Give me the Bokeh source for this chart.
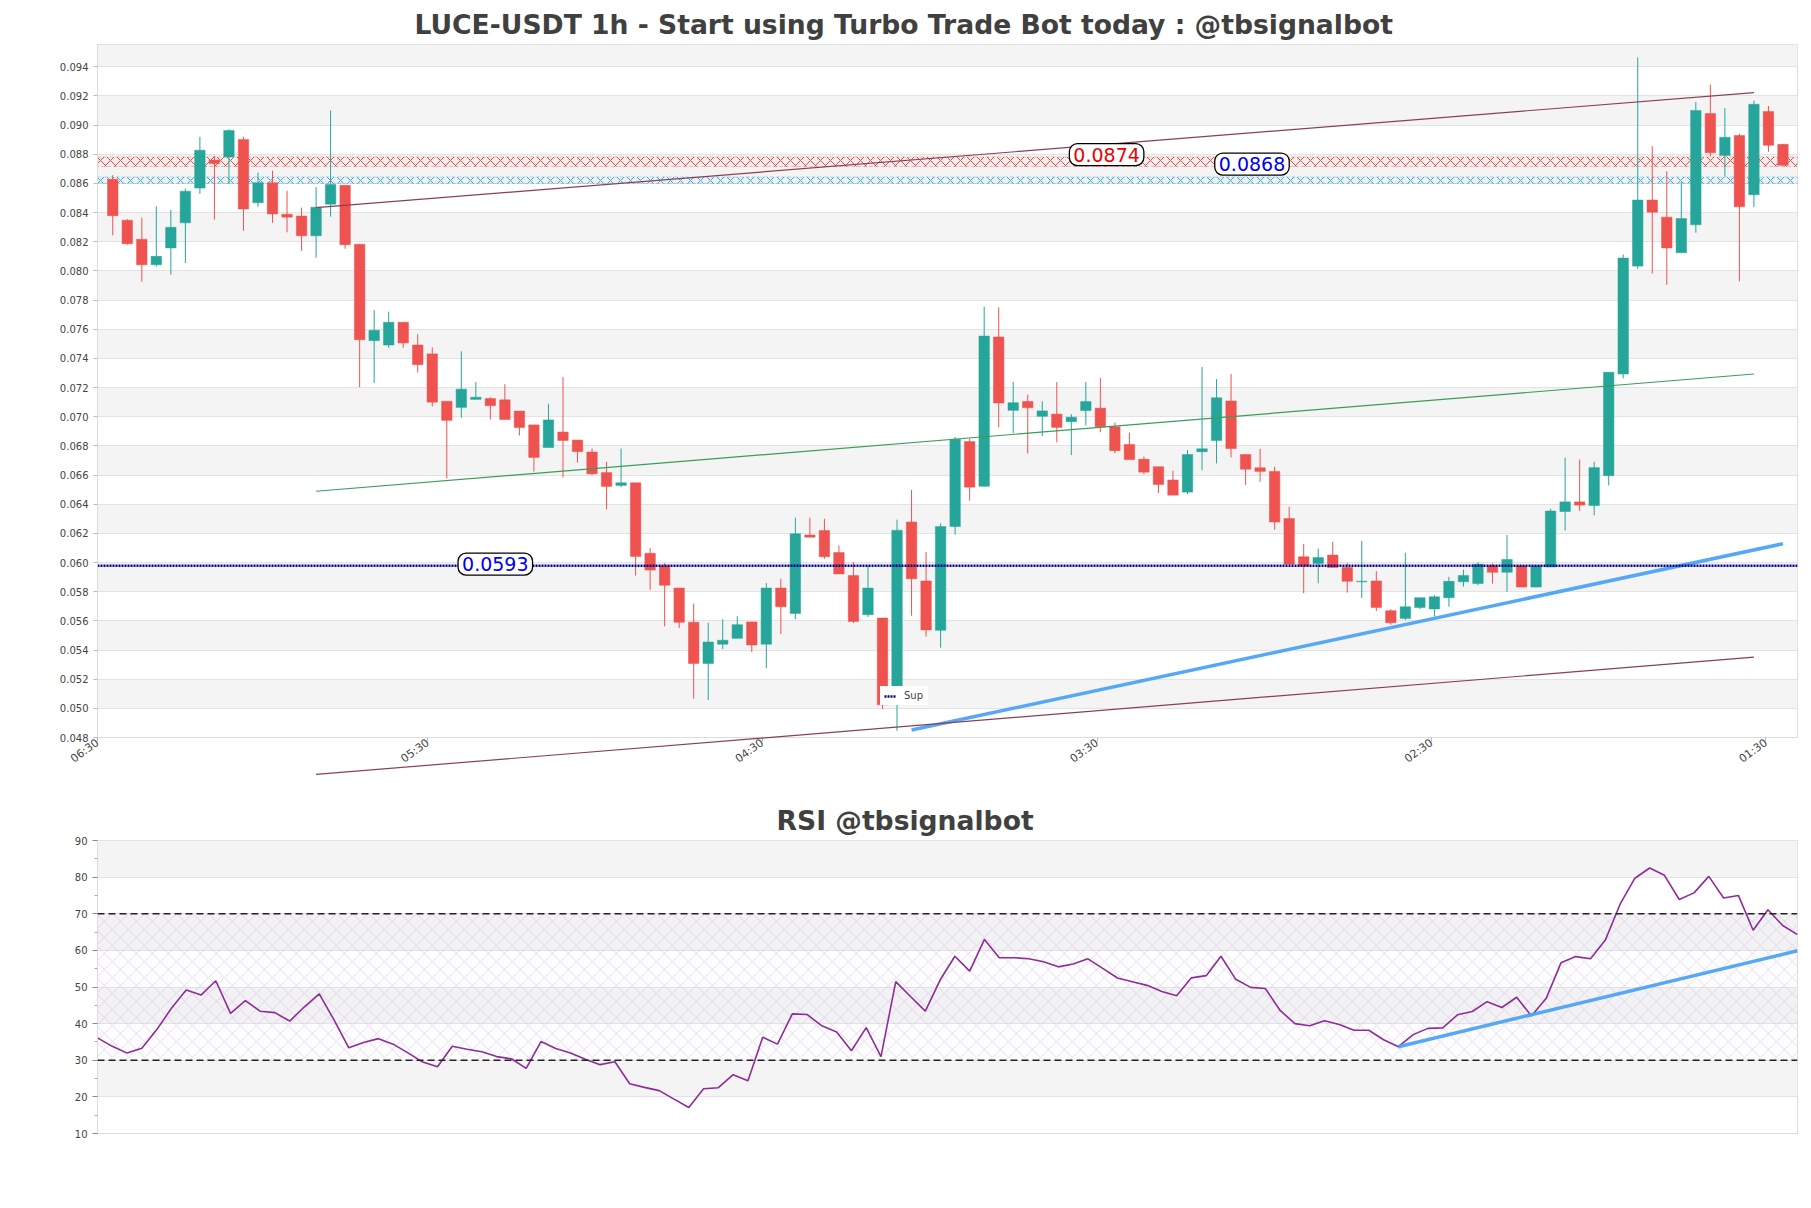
import math
from bokeh.plotting import figure
from bokeh.layouts import column
from bokeh.models import (Range1d, FixedTicker, PrintfTickFormatter, BoxAnnotation,
                          Label, Legend, LegendItem, ColumnDataSource, Span)
from bokeh.embed import file_html
from bokeh.resources import INLINE

# ---------------- data ----------------
opens = [0.08629, 0.08348, 0.08217, 0.08042, 0.08158, 0.08330, 0.08568, 0.08761, 0.08782, 0.08902,
         0.08467, 0.08605, 0.08388, 0.08376, 0.08241, 0.08458, 0.08587, 0.08183, 0.07522, 0.07492,
         0.07648, 0.07492, 0.07431, 0.07106, 0.07064, 0.07119, 0.07125, 0.07116, 0.07039, 0.06944,
         0.06789, 0.06895, 0.06840, 0.06758, 0.06617, 0.06529, 0.06547, 0.06064, 0.05978, 0.05825,
         0.05590, 0.05308, 0.05440, 0.05480, 0.05593, 0.05440, 0.05825, 0.05651, 0.06189, 0.06219,
         0.06068, 0.05911, 0.05642, 0.05620, 0.05030, 0.06278, 0.05874, 0.05535, 0.06247, 0.06830,
         0.06523, 0.07547, 0.07044, 0.07105, 0.07003, 0.07018, 0.06966, 0.07042, 0.07059, 0.06931,
         0.06810, 0.06709, 0.06657, 0.06566, 0.06483, 0.06760, 0.06837, 0.07108, 0.06741, 0.06650,
         0.06625, 0.06302, 0.06040, 0.05994, 0.06051, 0.05966, 0.05868, 0.05874, 0.05670, 0.05617,
         0.05691, 0.05682, 0.05759, 0.05868, 0.05856, 0.05978, 0.05933, 0.05978, 0.05832, 0.05969,
         0.06350, 0.06416, 0.06391, 0.06596, 0.07293, 0.08033, 0.08486, 0.08369, 0.08125, 0.08317,
         0.09079, 0.08791, 0.08929, 0.08522, 0.09094, 0.08868]
highs = [0.08657, 0.08355, 0.08366, 0.08443, 0.08418, 0.08565, 0.08920, 0.08791, 0.08972, 0.08920,
         0.08675, 0.08687, 0.08550, 0.08434, 0.08574, 0.09100, 0.08590, 0.08183, 0.07730, 0.07721,
         0.07650, 0.07566, 0.07476, 0.07106, 0.07449, 0.07238, 0.07134, 0.07223, 0.07039, 0.06944,
         0.07089, 0.07272, 0.06840, 0.06782, 0.06691, 0.06782, 0.06547, 0.06100, 0.05996, 0.05825,
         0.05718, 0.05587, 0.05611, 0.05632, 0.05593, 0.05859, 0.05890, 0.06308, 0.06308, 0.06300,
         0.06117, 0.06004, 0.05981, 0.05620, 0.06294, 0.06498, 0.06073, 0.06269, 0.06861, 0.06848,
         0.07755, 0.07749, 0.07238, 0.07151, 0.07105, 0.07238, 0.07018, 0.07238, 0.07266, 0.06960,
         0.06892, 0.06727, 0.06657, 0.06630, 0.06772, 0.07342, 0.07258, 0.07293, 0.06741, 0.06780,
         0.06657, 0.06382, 0.06128, 0.06095, 0.06142, 0.05997, 0.06149, 0.05941, 0.05679, 0.06067,
         0.05759, 0.05777, 0.05902, 0.05951, 0.06003, 0.05993, 0.06189, 0.05980, 0.05980, 0.06369,
         0.06719, 0.06706, 0.06691, 0.07305, 0.08112, 0.09464, 0.08856, 0.08684, 0.08608, 0.09158,
         0.09278, 0.09116, 0.08941, 0.09168, 0.09131, 0.08870]
lows = [0.08244, 0.08180, 0.07926, 0.08030, 0.07975, 0.08054, 0.08528, 0.08351, 0.08596, 0.08275,
        0.08440, 0.08330, 0.08265, 0.08137, 0.08091, 0.08372, 0.08152, 0.07204, 0.07232, 0.07473,
        0.07473, 0.07303, 0.07070, 0.06577, 0.06993, 0.07119, 0.06981, 0.06981, 0.06871, 0.06624,
        0.06789, 0.06583, 0.06686, 0.06600, 0.06365, 0.06517, 0.05911, 0.05813, 0.05562, 0.05550,
        0.05066, 0.05057, 0.05406, 0.05480, 0.05385, 0.05275, 0.05510, 0.05611, 0.06174, 0.06025,
        0.05922, 0.05585, 0.05627, 0.04994, 0.04846, 0.05635, 0.05492, 0.05416, 0.06192, 0.06425,
        0.06520, 0.06927, 0.06886, 0.06747, 0.06867, 0.06824, 0.06737, 0.06940, 0.06894, 0.06749,
        0.06706, 0.06605, 0.06477, 0.06462, 0.06470, 0.06633, 0.06680, 0.06721, 0.06533, 0.06554,
        0.06226, 0.05989, 0.05790, 0.05858, 0.05966, 0.05794, 0.05757, 0.05667, 0.05574, 0.05605,
        0.05682, 0.05630, 0.05697, 0.05835, 0.05844, 0.05856, 0.05799, 0.05830, 0.05830, 0.05969,
        0.06220, 0.06353, 0.06324, 0.06529, 0.07263, 0.08015, 0.07982, 0.07905, 0.08125, 0.08262,
        0.08785, 0.08648, 0.07929, 0.08437, 0.08816, 0.08720]
closes = [0.08379, 0.08186, 0.08042, 0.08100, 0.08299, 0.08547, 0.08828, 0.08736, 0.08963, 0.08424,
          0.08605, 0.08391, 0.08369, 0.08241, 0.08437, 0.08593, 0.08180, 0.07528, 0.07593, 0.07648,
          0.07506, 0.07357, 0.07100, 0.06975, 0.07189, 0.07134, 0.07076, 0.06981, 0.06926, 0.06721,
          0.06978, 0.06837, 0.06761, 0.06608, 0.06522, 0.06547, 0.06042, 0.05948, 0.05844, 0.05590,
          0.05308, 0.05455, 0.05467, 0.05574, 0.05434, 0.05825, 0.05697, 0.06198, 0.06174, 0.06040,
          0.05922, 0.05596, 0.05825, 0.05024, 0.06221, 0.05889, 0.05538, 0.06247, 0.06845, 0.06517,
          0.07553, 0.07094, 0.07096, 0.07062, 0.07040, 0.06927, 0.06997, 0.07104, 0.06931, 0.06767,
          0.06706, 0.06620, 0.06535, 0.06462, 0.06741, 0.06780, 0.07130, 0.06782, 0.06640, 0.06625,
          0.06278, 0.05989, 0.05976, 0.06034, 0.05966, 0.05871, 0.05872, 0.05691, 0.05587, 0.05697,
          0.05759, 0.05765, 0.05871, 0.05911, 0.05988, 0.05933, 0.06021, 0.05832, 0.05978, 0.06353,
          0.06416, 0.06394, 0.06651, 0.07305, 0.08088, 0.08486, 0.08403, 0.08158, 0.08359, 0.09100,
          0.08810, 0.08917, 0.08440, 0.09143, 0.08862, 0.08724]

rsi = [36.1, 33.8, 31.95, 33.3, 38.3, 44.2, 49.2, 47.8, 51.7, 42.8,
       46.3, 43.4, 43.0, 40.7, 44.6, 48.1, 41.0, 33.4, 34.85, 35.9,
       34.4, 32.0, 29.5, 28.2, 33.8, 33.0, 32.3, 31.0, 30.4, 27.8,
       35.1, 33.2, 32.0, 30.3, 28.8, 29.6, 23.6, 22.6, 21.7, 19.4,
       17.1, 22.2, 22.5, 26.05, 24.4, 36.3, 34.4, 42.65, 42.5, 39.4,
       37.7, 32.6, 38.9, 31.0, 51.45, 47.4, 43.4, 51.9, 58.4, 54.35,
       63.0, 58.0, 58.0, 57.7, 56.9, 55.5, 56.3, 57.7, 55.1, 52.45,
       51.45, 50.45, 48.8, 47.6, 52.5, 53.1, 58.4, 52.1, 49.9, 49.6,
       43.6, 40.0, 39.4, 40.8, 39.75, 38.2, 38.2, 35.6, 33.7, 37.0,
       38.7, 38.85, 42.4, 43.3, 46.0, 44.4, 47.2, 42.1, 46.9, 56.6,
       58.3, 57.7, 62.8, 72.6, 79.7, 82.5, 80.5, 73.9, 75.7, 80.2,
       74.3, 75.0, 65.5, 71.1, 66.8, 64.3]

x_tick_labels = ["06:30", "05:30", "04:30", "03:30", "02:30", "01:30"]
x_tick_pos = [-1.04, 21.7, 44.73, 67.77, 90.8, 113.83]
price_ticks = [0.048, 0.050, 0.052, 0.054, 0.056, 0.058, 0.060, 0.062, 0.064, 0.066, 0.068, 0.070,
               0.072, 0.074, 0.076, 0.078, 0.080, 0.082, 0.084, 0.086, 0.088, 0.090, 0.092, 0.094]
rsi_ticks = [10, 20, 30, 40, 50, 60, 70, 80, 90]
rsi_minor_ticks = [15, 25, 35, 45, 55, 65, 75, 85]

# levels / trend lines
resist_band = (0.08716, 0.08782)
support_band = (0.08600, 0.08645)
sup_level = 0.05978
sup_label = "0.0593"
res_label_red = "0.0874"
res_label_blue = "0.0868"
channel_x = [14, 113]
channel_upper = [0.08434, 0.09223]
channel_mid = [0.06489, 0.07293]
channel_lower = [0.04547, 0.05351]
sup_trend_x = [55, 115]
sup_trend_y = [0.04851, 0.06129]
rsi_trend_x = [88, 115]
rsi_trend_y = [33.7, 59.9]
rsi_upper, rsi_lower = 70, 30

TITLE = "LUCE-USDT 1h - Start using Turbo Trade Bot today : @tbsignalbot"
FONT = "DejaVu Sans"
UP, DOWN = "#26a69a", "#ef5350"

# ---------------- main chart ----------------
idx = list(range(len(opens)))
src = ColumnDataSource(dict(
    x=idx, o=opens, h=highs, l=lows, c=closes,
    top=[max(o, c) for o, c in zip(opens, closes)],
    bot=[min(o, c) for o, c in zip(opens, closes)],
    col=[UP if c >= o else DOWN for o, c in zip(opens, closes)],
))

x0, x1 = -1.05, 116.0
p1 = figure(width=1811, height=785, x_range=Range1d(x0, x1), y_range=Range1d(0.048, 0.09553),
            output_backend="svg", toolbar_location=None, title=TITLE,
            min_border_left=97, min_border_right=14, min_border_top=44, min_border_bottom=48)
p1.title.text_font = FONT
p1.title.text_font_size = "26.6px"
p1.title.text_font_style = "bold"
p1.title.text_color = "#404040"
p1.title.align = "left"
p1.title.offset = 317
p1.outline_line_color = "#dddddd"
p1.xgrid.visible = False
p1.ygrid.grid_line_color = "#e3e3e3"
p1.ygrid.band_fill_color = "#f4f4f4"
p1.ygrid.band_fill_alpha = 1.0

p1.yaxis.ticker = FixedTicker(ticks=price_ticks)
p1.yaxis.formatter = PrintfTickFormatter(format="%.3f")
p1.xaxis.ticker = FixedTicker(ticks=x_tick_pos)
p1.xaxis.major_label_overrides = {p: t for p, t in zip(x_tick_pos, x_tick_labels)}
p1.xaxis.major_label_orientation = math.pi / 5
for ax in (p1.xaxis, p1.yaxis):
    ax.axis_line_color = "#dddddd"
    ax.major_tick_line_color = "#bbbbbb"
    ax.major_tick_out = 4
    ax.major_tick_in = 0
    ax.minor_tick_line_color = None
    ax.major_label_text_font = FONT
    ax.major_label_text_color = "#444444"
p1.yaxis.major_label_text_font_size = "10px"
p1.yaxis.major_label_standoff = 5
p1.xaxis.major_label_text_font_size = "11px"
p1.xaxis.major_label_standoff = 0

# bands (under candles)
p1.add_layout(BoxAnnotation(bottom=resist_band[0], top=resist_band[1], level="underlay",
                            fill_color="#ff6666", fill_alpha=0.04,
                            hatch_pattern="x", hatch_color="#e53935", hatch_alpha=0.9,
                            hatch_scale=10, hatch_weight=1,
                            line_color="#e53935", line_dash="4 2", line_width=1))
p1.add_layout(BoxAnnotation(bottom=support_band[0], top=support_band[1], level="underlay",
                            fill_color="#66bbee", fill_alpha=0.04,
                            hatch_pattern="x", hatch_color="#2a9fd8", hatch_alpha=0.9,
                            hatch_scale=10, hatch_weight=1,
                            line_color="#2a9fd8", line_dash="4 2", line_width=1))

# candles
p1.segment(x0="x", y0="l", x1="x", y1="h", color="col", line_width=1, source=src)
p1.vbar(x="x", width=0.72, top="top", bottom="bot", fill_color="col", line_color="col",
        line_width=0.5, source=src)

# channel lines
p1.line(channel_x, channel_upper, color="#8b3f55", line_width=1.2)
p1.line(channel_x, channel_mid, color="#3a9d5a", line_width=1.2)
p1.segment(x0=[channel_x[0]], y0=[channel_lower[0]], x1=[channel_x[1]], y1=[channel_lower[1]],
           color="#8b3f55", line_width=1.2, level="overlay")
# support trend
p1.line(sup_trend_x, sup_trend_y, color="#4da3f7", line_width=3.5, line_alpha=0.95)
# support level (dotted)
sup_r = p1.line([x0, x1], [sup_level, sup_level], color="#00008b", line_width=2.5, line_dash="2 1")

lbl_kw = dict(text_align="center", text_baseline="middle", text_font=FONT, text_font_size="19px",
              background_fill_color="white", border_line_color="black", border_line_width=1.3,
              padding=4, border_radius=8)
p1.add_layout(Label(x=26.34, y=0.05989, text=sup_label, text_color="#0000ee", **lbl_kw))
p1.add_layout(Label(x=68.43, y=0.08798, text=res_label_red, text_color="#ee0000", **lbl_kw))
p1.add_layout(Label(x=78.44, y=0.08733, text=res_label_blue, text_color="#0000ee", **lbl_kw))

legend = Legend(items=[LegendItem(label="Sup", renderers=[sup_r])], location=(783, 32),
                label_text_font=FONT, label_text_font_size="10px", glyph_width=12, glyph_height=10,
                label_standoff=8, padding=4, margin=0, spacing=0, border_line_alpha=0,
                background_fill_color="white", background_fill_alpha=1.0)
p1.add_layout(legend)

# ---------------- RSI chart ----------------
ridx = list(range(len(rsi)))
p2 = figure(width=1811, height=420, x_range=Range1d(0, len(rsi) - 1), y_range=Range1d(10, 90),
            output_backend="svg", toolbar_location=None, title="RSI @tbsignalbot",
            min_border_left=97, min_border_right=14, min_border_top=55, min_border_bottom=72)
p2.title.text_font = FONT
p2.title.text_font_size = "26.6px"
p2.title.text_font_style = "bold"
p2.title.text_color = "#404040"
p2.title.align = "left"
p2.title.offset = 679
p2.outline_line_color = "#dddddd"
p2.xaxis.visible = False
p2.xgrid.visible = False
p2.ygrid.grid_line_color = "#e3e3e3"
p2.ygrid.band_fill_color = "#f4f4f4"
p2.ygrid.band_fill_alpha = 1.0
p2.yaxis.ticker = FixedTicker(ticks=rsi_ticks, minor_ticks=rsi_minor_ticks)
p2.yaxis.axis_line_color = "#dddddd"
p2.yaxis.major_tick_line_color = "#888888"
p2.yaxis.major_tick_out = 5
p2.yaxis.major_tick_in = 0
p2.yaxis.minor_tick_line_color = "#aaaaaa"
p2.yaxis.minor_tick_out = 3
p2.yaxis.minor_tick_in = 0
p2.yaxis.major_label_text_font = FONT
p2.yaxis.major_label_text_font_size = "10px"
p2.yaxis.major_label_text_color = "#444444"
p2.yaxis.major_label_standoff = 5

p2.add_layout(BoxAnnotation(bottom=rsi_lower, top=rsi_upper, level="underlay",
                            fill_color="#d8c8e8", fill_alpha=0.06,
                            hatch_pattern="x", hatch_color="#c4a8d8", hatch_alpha=0.6,
                            hatch_scale=16, hatch_weight=0.6, line_alpha=0))
for lv in (rsi_upper, rsi_lower):
    p2.add_layout(Span(location=lv, dimension="width", line_color="#222222",
                       line_dash="7 4", line_width=1.3))
p2.line(ridx, rsi, color="#8e2c9a", line_width=1.6)
p2.line(rsi_trend_x, rsi_trend_y, color="#4da3f7", line_width=3.5, line_alpha=0.95)

layout = column(p1, p2)
open("out.html", "w").write(file_html(layout, INLINE))
